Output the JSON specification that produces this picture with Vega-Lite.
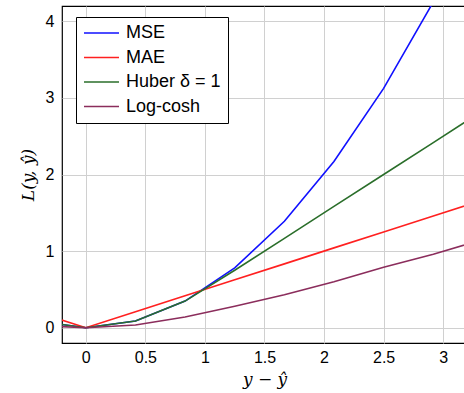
{
  "$schema": "https://vega.github.io/schema/vega-lite/v6.json",
  "autosize": "none",
  "width": 405,
  "height": 337,
  "padding": {"left": 62, "top": 6, "right": 0, "bottom": 50},
  "config": {
    "view": {"stroke": "#000000", "strokeWidth": 1.2},
    "font": "Liberation Sans",
    "axis": {"gridColor": "#d0d0d0", "gridWidth": 1, "ticks": false, "domain": false, "labelFontSize": 16, "labelColor": "#000000", "titleFontSize": 17, "titleFontWeight": "normal", "titleFontStyle": "italic", "titleColor": "#000000", "labelFont": "Liberation Sans", "titleFont": "DejaVu Serif"}
  },
  "data": {
    "values": [
      {"x": -0.417, "y": 0.087, "loss": "MSE"},
      {"x": 0, "y": 0, "loss": "MSE"},
      {"x": 0.417, "y": 0.087, "loss": "MSE"},
      {"x": 0.833, "y": 0.347, "loss": "MSE"},
      {"x": 1.25, "y": 0.781, "loss": "MSE"},
      {"x": 1.667, "y": 1.389, "loss": "MSE"},
      {"x": 2.083, "y": 2.17, "loss": "MSE"},
      {"x": 2.5, "y": 3.125, "loss": "MSE"},
      {"x": 2.917, "y": 4.253, "loss": "MSE"},
      {"x": 3.333, "y": 5.556, "loss": "MSE"},
      {"x": -0.417, "y": 0.208, "loss": "MAE"},
      {"x": 0, "y": 0, "loss": "MAE"},
      {"x": 0.417, "y": 0.208, "loss": "MAE"},
      {"x": 0.833, "y": 0.417, "loss": "MAE"},
      {"x": 1.25, "y": 0.625, "loss": "MAE"},
      {"x": 1.667, "y": 0.833, "loss": "MAE"},
      {"x": 2.083, "y": 1.042, "loss": "MAE"},
      {"x": 2.5, "y": 1.25, "loss": "MAE"},
      {"x": 2.917, "y": 1.458, "loss": "MAE"},
      {"x": 3.333, "y": 1.667, "loss": "MAE"},
      {"x": -0.417, "y": 0.087, "loss": "Huber δ = 1"},
      {"x": 0, "y": 0, "loss": "Huber δ = 1"},
      {"x": 0.417, "y": 0.087, "loss": "Huber δ = 1"},
      {"x": 0.833, "y": 0.347, "loss": "Huber δ = 1"},
      {"x": 1.25, "y": 0.75, "loss": "Huber δ = 1"},
      {"x": 1.667, "y": 1.167, "loss": "Huber δ = 1"},
      {"x": 2.083, "y": 1.583, "loss": "Huber δ = 1"},
      {"x": 2.5, "y": 2.0, "loss": "Huber δ = 1"},
      {"x": 2.917, "y": 2.417, "loss": "Huber δ = 1"},
      {"x": 3.333, "y": 2.833, "loss": "Huber δ = 1"},
      {"x": -0.417, "y": 0.03, "loss": "Log-cosh"},
      {"x": 0, "y": 0, "loss": "Log-cosh"},
      {"x": 0.417, "y": 0.035, "loss": "Log-cosh"},
      {"x": 0.833, "y": 0.14, "loss": "Log-cosh"},
      {"x": 1.25, "y": 0.28, "loss": "Log-cosh"},
      {"x": 1.667, "y": 0.43, "loss": "Log-cosh"},
      {"x": 2.083, "y": 0.6, "loss": "Log-cosh"},
      {"x": 2.5, "y": 0.79, "loss": "Log-cosh"},
      {"x": 2.917, "y": 0.96, "loss": "Log-cosh"},
      {"x": 3.333, "y": 1.15, "loss": "Log-cosh"}
    ]
  },
  "mark": {"type": "line", "clip": true, "strokeWidth": 1.6},
  "encoding": {
    "x": {"field": "x", "type": "quantitative", "scale": {"domain": [-0.2, 3.2], "nice": false, "zero": false}, "axis": {"values": [0, 0.5, 1, 1.5, 2, 2.5, 3], "format": "~g", "title": "y − ŷ", "labelPadding": 6, "titlePadding": 6}},
    "y": {"field": "y", "type": "quantitative", "scale": {"domain": [-0.2, 4.2], "nice": false, "zero": false}, "axis": {"values": [0, 1, 2, 3, 4], "format": "~g", "title": "L(y, ŷ)", "labelPadding": 8, "titlePadding": 8}},
    "color": {
      "field": "loss", "type": "nominal",
      "scale": {"domain": ["MSE", "MAE", "Huber δ = 1", "Log-cosh"], "range": ["#1010ff", "#ff2020", "#2a6e2a", "#8b2d5c"]},
      "legend": {"title": null, "orient": "none", "legendX": 14, "legendY": 11, "symbolType": "stroke", "symbolSize": 1225, "symbolStrokeWidth": 1.6, "clipHeight": 18, "labelFontSize": 18, "labelFont": "Liberation Sans", "labelColor": "#000000", "strokeColor": "#000000", "fillColor": "#ffffff", "padding": 7, "rowPadding": 6.5, "labelOffset": 6}
    },
    "order": {"value": 0}
  }
}
